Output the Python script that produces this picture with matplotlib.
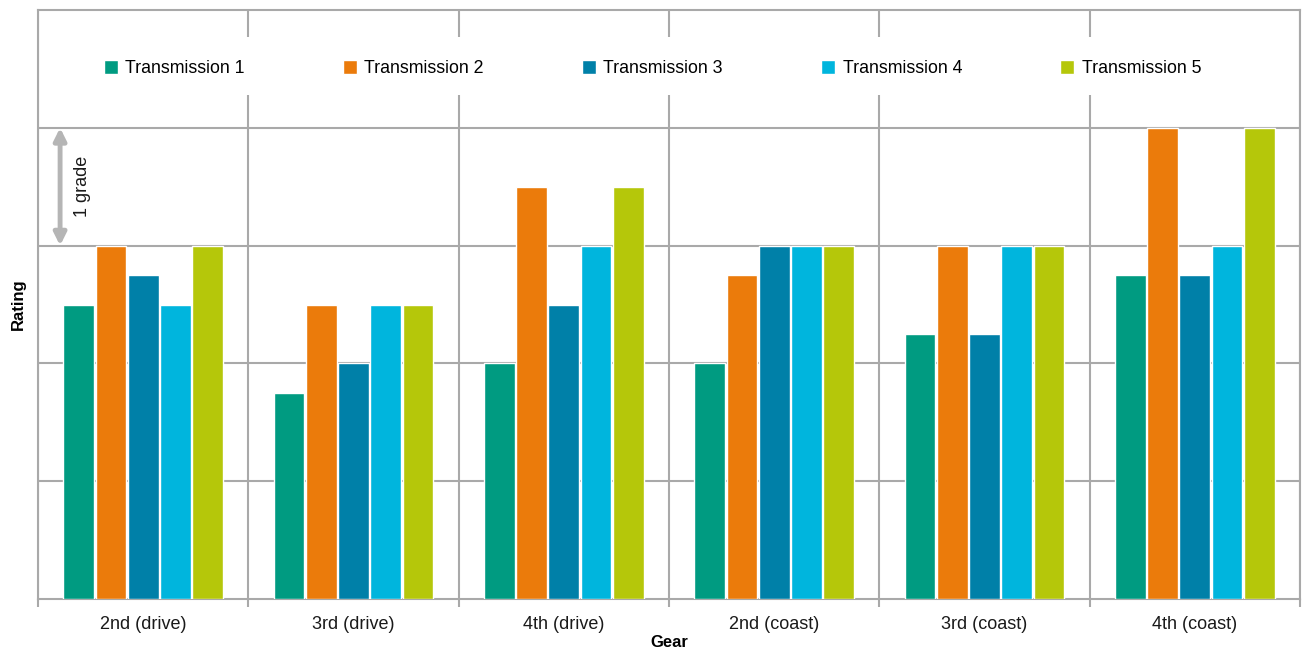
import matplotlib
matplotlib.use("Agg")
import matplotlib.pyplot as plt
from matplotlib.patches import Rectangle, FancyArrowPatch
import numpy as np

plt.rcParams['font.family'] = ['Liberation Sans', 'DejaVu Sans']

gears = ["2nd (drive)", "3rd (drive)", "4th (drive)",
         "2nd (coast)", "3rd (coast)", "4th (coast)"]
series_names = ["Transmission 1", "Transmission 2", "Transmission 3",
                "Transmission 4", "Transmission 5"]
t1 = [2.5, 1.75, 2.0, 2.0, 2.25, 2.75]
t2 = [3.0, 2.5, 3.5, 2.75, 3.0, 4.0]
t3 = [2.75, 2.0, 2.5, 3.0, 2.25, 2.75]
t4 = [2.5, 2.5, 3.0, 3.0, 3.0, 3.0]
t5 = [3.0, 2.5, 3.5, 3.0, 3.0, 4.0]
colors = ["#009B81", "#EB7B0B", "#0080A8", "#00B5DD", "#B5C70A"]

grid_c = "#A9A9A9"

fig = plt.figure(figsize=(13.02, 6.51), dpi=100)
ax = fig.add_axes([38 / 1302, 52 / 651, 1262 / 1302, 589 / 651])

x = np.arange(len(gears))
pitch = 0.1536
width = 0.146
for i, (vals, name, c) in enumerate(zip([t1, t2, t3, t4, t5], series_names, colors)):
    ax.bar(x + (i - 2) * pitch, vals, width=width, color=c, edgecolor="white",
           linewidth=1.0, label=name, zorder=3)

ax.set_xlim(-0.5, len(gears) - 0.5)
ax.set_ylim(0, 5)

# category labels at group centres, tick marks at group boundaries
ax.set_xticks(x)
ax.set_xticklabels(gears, fontsize=13, color="#1a1a1a")
ax.set_xticks(np.arange(-0.5, len(gears) + 0.5, 1.0), minor=True)
ax.tick_params(axis="x", which="major", length=0, pad=12)
ax.tick_params(axis="x", which="minor", length=6, width=1.5, color=grid_c)
ax.set_yticks([1, 2, 3, 4])
ax.set_yticklabels([])
ax.tick_params(axis="y", length=0)

ax.grid(True, axis="y", which="major", color=grid_c, linewidth=1.5, zorder=0)
ax.grid(True, axis="x", which="minor", color=grid_c, linewidth=1.5, zorder=0)
ax.set_axisbelow(True)
for s in ax.spines.values():
    s.set_color(grid_c)
    s.set_linewidth(1.5)

ax.set_xlabel("Gear", fontsize=12, fontweight="bold", labelpad=1.5)
ax.set_ylabel("Rating", fontsize=12, fontweight="bold", labelpad=5)

# white band behind the legend
ax.add_patch(Rectangle((0.002, 0.856), 0.996, 0.099, transform=ax.transAxes,
                       facecolor="white", edgecolor="none", zorder=1))
ax.legend(loc="center", bbox_to_anchor=(0.487, 0.9), ncol=5, frameon=False,
          fontsize=12.75, handlelength=0.8, handleheight=0.8, handletextpad=0.4,
          columnspacing=5.55)

# scale marker: one grade
arr = FancyArrowPatch((-0.395, 4.0), (-0.395, 3.0), arrowstyle="<|-|>",
                      mutation_scale=18, color="#B5B5B5", linewidth=3.5,
                      shrinkA=0, shrinkB=0, zorder=4)
ax.add_patch(arr)
ax.text(-0.288, 3.5, "1 grade", rotation=90, ha="center", va="center",
        fontsize=13, color="#1a1a1a")

fig.savefig("out.png", dpi=100)
